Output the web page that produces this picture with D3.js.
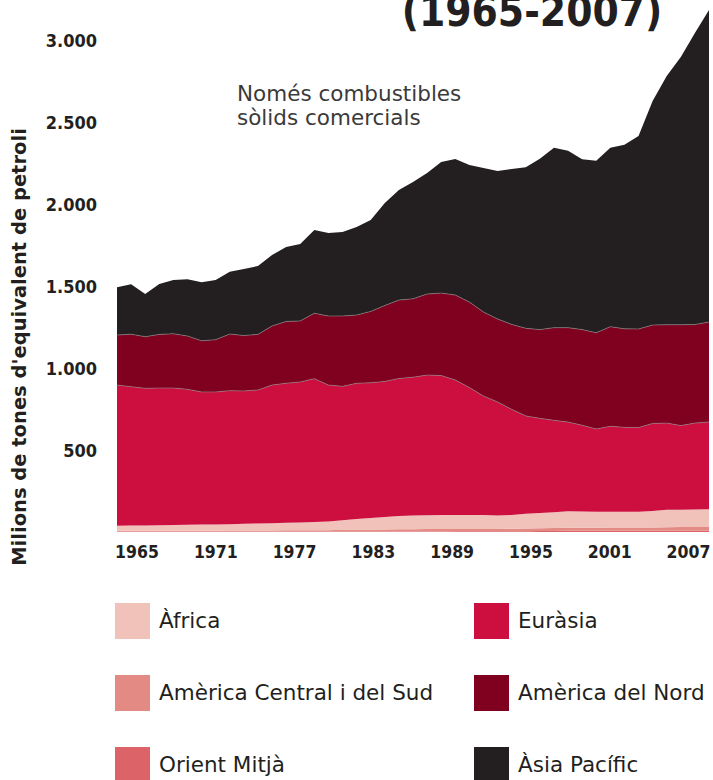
<!DOCTYPE html>
<html>
<head>
<meta charset="utf-8">
<script src="https://d3js.org/d3.v7.min.js"></script>
<style>
	body { margin: 0; background: #fff; }
	svg text { fill: #231f20; font-family: "DejaVu Sans Condensed", "DejaVu Sans", sans-serif; font-stretch: condensed; }
	svg text.wide { font-family: "DejaVu Sans", sans-serif; font-stretch: normal; }
</style>
</head>
<body>
<svg width="713" height="780"></svg>
<script>
// years and values (milions de tones d'equivalent de petroli)
const years = d3.range(1965, 2008);
const orientMitja = [1,1,1,1,1,1,1,1,1,1, 1,1,1,1,1,1,2,2,2,3, 3,3,3,3,4,4,4,4,5,5, 6,6,7,7,7,7,8,8,8,8, 9,9,9];
const americaSud = [6,6,6,7,7,7,7,7,8,8, 8,8,9,9,10,10,11,11,12,13, 14,14,15,15,15,15,14,14,15,16, 17,18,19,19,19,20,20,20,20,21, 21,21,22];
const africa = [31,32,33,33,34,36,37,38,39,41, 43,45,46,48,50,53,59,67,71,76, 80,83,84,85,85,85,85,82,84,90, 93,96,100,99,97,96,95,96,100,106, 106,107,107];
const eurasia = [858,847,836,837,836,826,809,808,814,810, 814,842,851,857,874,832,816,827,825,826, 839,844,855,851,823,777,726,693,644,597, 577,561,544,526,505,522,515,513,534,529, 513,527,533];
const americaNord = [305,320,315,327,331,325,312,319,345,338, 339,360,377,372,399,421,429,416,435,463, 478,478,494,503,518,521,512,506,518,534, 541,565,576,583,587,607,601,601,600,600, 615,601,609];
const asiaPacific = [291,304,260,307,328,346,357,364,380,406, 417,433,454,469,507,506,512,537,557,625, 671,712,738,799,829,836,879,902,948,982, 1042,1097,1079,1039,1049,1091,1122,1177,1366,1516, 1632,1778,1903];

const keys = ["Orient Mitjà", "Amèrica Central i del Sud", "Àfrica", "Euràsia", "Amèrica del Nord", "Àsia Pacífic"];
const colors = ["#dc6468", "#e48a85", "#f0c2b9", "#cc0f3e", "#800020", "#231f20"];
const series = [orientMitja, americaSud, africa, eurasia, americaNord, asiaPacific];
const yTicks = [500, 1000, 1500, 2000, 2500, 3000];
const xLabels = ["1965", "1971", "1977", "1983", "1989", "1995", "2001", "2007"];
const legendLeft = ["Àfrica", "Amèrica Central i del Sud", "Orient Mitjà"];
const legendRight = ["Euràsia", "Amèrica del Nord", "Àsia Pacífic"];

const rows = years.map((yr, i) => {
	const r = { year: yr };
	keys.forEach((k, j) => r[k] = series[j][i]);
	return r;
});

const svg = d3.select("svg");
const x = d3.scaleLinear().domain([1965, 2007]).range([117, 709]);
const y = d3.scaleLinear().domain([0, 3000]).range([532, 40]);
const color = d3.scaleOrdinal().domain(keys).range(colors);

const stacked = d3.stack().keys(keys)(rows);
const area = d3.area()
	.x(d => x(d.data.year))
	.y0(d => y(d[0]))
	.y1(d => y(d[1]));

svg.append("g").selectAll("path").data(stacked).enter().append("path")
	.attr("d", area)
	.attr("fill", d => color(d.key));

// thin boundary lines between the big layers
const topLine = d3.line().x(d => x(d.data.year)).y(d => y(d[1]));
svg.append("g").selectAll("path").data(stacked.slice(3, 5)).enter().append("path")
	.attr("d", topLine)
	.attr("fill", "none")
	.attr("stroke", "#8a8a8a")
	.attr("stroke-width", 0.6);

// y axis
const fmt = d3.formatLocale({ decimal: ",", thousands: ".", grouping: [3], currency: ["", "€"] }).format(",");
svg.append("g")
	.attr("transform", "translate(97,0)")
	.call(d3.axisLeft(y).tickValues(yTicks).tickFormat(fmt).tickSize(0).tickPadding(0))
	.call(g => g.select(".domain").remove())
	.selectAll("text")
	.style("font-size", "18px").style("font-weight", "bold")
	.attr("fill", "#231f20").attr("dy", "0.36em");

// x axis labels
const xl = d3.scalePoint().domain(xLabels).range([136.5, 688]);
svg.append("g")
	.attr("transform", "translate(0,546)")
	.call(d3.axisBottom(xl).tickSize(0).tickPadding(0))
	.call(g => g.select(".domain").remove())
	.selectAll("text")
	.style("font-size", "17.5px").style("font-weight", "bold")
	.attr("fill", "#231f20");

// y title
svg.append("text")
	.attr("class", "wide")
	.attr("transform", "translate(26,347) rotate(-90)")
	.attr("text-anchor", "middle")
	.style("font-size", "19.5px").style("font-weight", "bold")
	.text("Milions de tones d'equivalent de petroli");

// title (cut at top, as in the original)
svg.append("text")
	.attr("x", 532).attr("y", 26)
	.attr("text-anchor", "middle")
	.style("font-size", "42px").style("font-weight", "bold")
	.text("(1965-2007)");

// note
svg.append("text").attr("class", "wide").attr("x", 237).attr("y", 101)
	.style("font-size", "21.5px").style("fill", "#3a3a3a")
	.text("Només combustibles");
svg.append("text").attr("class", "wide").attr("x", 237).attr("y", 125)
	.style("font-size", "21.5px").style("fill", "#3a3a3a")
	.text("sòlids comercials");

// legend
const ly = d3.scalePoint().domain([0, 1, 2]).range([620, 764]);
function legendCol(names, x0) {
	const g = svg.append("g").selectAll("g").data(names).enter().append("g")
		.attr("transform", (d, i) => "translate(" + x0 + "," + ly(i) + ")");
	g.append("rect").attr("x", 0).attr("y", -17).attr("width", 35).attr("height", 36)
		.attr("fill", d => color(d));
	g.append("text").attr("class", "wide").attr("x", 44).attr("dy", "0.36em")
		.style("font-size", "21.5px")
		.text(d => d);
}
legendCol(legendLeft, 115);
legendCol(legendRight, 474);
</script>
</body>
</html>
